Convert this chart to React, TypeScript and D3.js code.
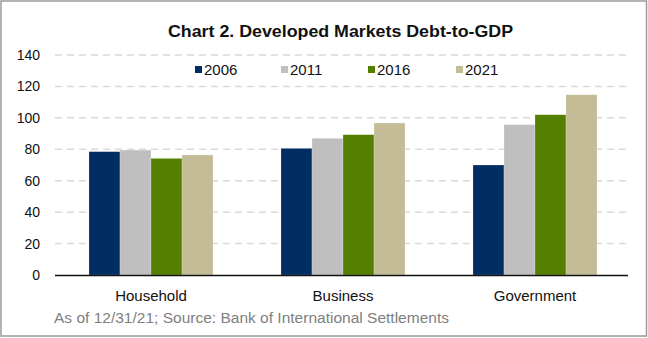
import React from "react";
import * as d3 from "d3";

const categories = ["Household", "Business", "Government"];
const seriesNames = ["2006", "2011", "2016", "2021"];
const values2006 = [78.5, 80.6, 70];
const values2011 = [79.5, 87, 95.7];
const values2016 = [74.2, 89.3, 102];
const values2021 = [76.4, 96.7, 114.7];
const yTicks = [0, 20, 40, 60, 80, 100, 120, 140];
const colors = ["#002D62", "#BFBFBF", "#548000", "#C4BC96"];

const W = 648;
const H = 338;
const font = "'Liberation Sans', Arial, sans-serif";

export default function App() {
  const series = [values2006, values2011, values2016, values2021];
  const x0 = d3.scaleBand<string>().domain(categories).range([55, 631]).paddingInner(0.354).paddingOuter(0.177);
  const x1 = d3.scaleBand<string>().domain(seriesNames).range([0, x0.bandwidth()]).padding(0);
  const y = d3.scaleLinear().domain([0, 140]).range([275, 55]);
  const legendX = [195, 281, 368, 456];

  return (
    <svg width={W} height={H} style={{ position: "absolute", left: 0, top: 0, background: "#fff" }}>
      <rect x={1} y={1} width={W - 2.5} height={H - 3} fill="#fff" stroke="#9a9a9a" strokeWidth={1.5} />
      <text x={340.5} y={37} textAnchor="middle" fontFamily={font} fontWeight="bold" fontSize={16} fill="#111" textLength={345} lengthAdjust="spacingAndGlyphs">
        Chart 2. Developed Markets Debt-to-GDP
      </text>
      {yTicks.map((t) => (
        <g key={t}>
          {t > 0 && (
            <line x1={55} x2={628} y1={y(t)} y2={y(t)} stroke="#D9D9D9" strokeWidth={1.5} strokeDasharray="7,5" />
          )}
          <text x={40} y={y(t) + 5} textAnchor="end" fontFamily={font} fontSize={14} fill="#111">
            {t}
          </text>
        </g>
      ))}
      {categories.map((c, ci) => (
        <g key={c} transform={`translate(${x0(c)},0)`}>
          {seriesNames.map((s, si) => (
            <rect
              key={s}
              x={x1(s)}
              y={y(series[si][ci])}
              width={x1.bandwidth()}
              height={y(0) - y(series[si][ci])}
              fill={colors[si]}
              stroke="#ffffff"
              strokeOpacity={0.35}
              strokeWidth={0.6}
            />
          ))}
        </g>
      ))}
      <line x1={55} x2={628} y1={275.5} y2={275.5} stroke="#111" strokeWidth={1.5} />
      {categories.map((c) => (
        <text key={c} x={(x0(c) as number) + x0.bandwidth() / 2} y={301} textAnchor="middle" fontFamily={font} fontSize={15} fill="#111">
          {c}
        </text>
      ))}
      {seriesNames.map((s, i) => (
        <g key={s}>
          <rect x={legendX[i]} y={66} width={7} height={7} fill={colors[i]} />
          <text x={legendX[i] + 9} y={75} fontFamily={font} fontSize={15} fill="#111">
            {s}
          </text>
        </g>
      ))}
      <text x={54} y={323} fontFamily={font} fontSize={15.2} fill="#808080" textLength={395} lengthAdjust="spacingAndGlyphs">
        As of 12/31/21; Source: Bank of International Settlements
      </text>
    </svg>
  );
}
